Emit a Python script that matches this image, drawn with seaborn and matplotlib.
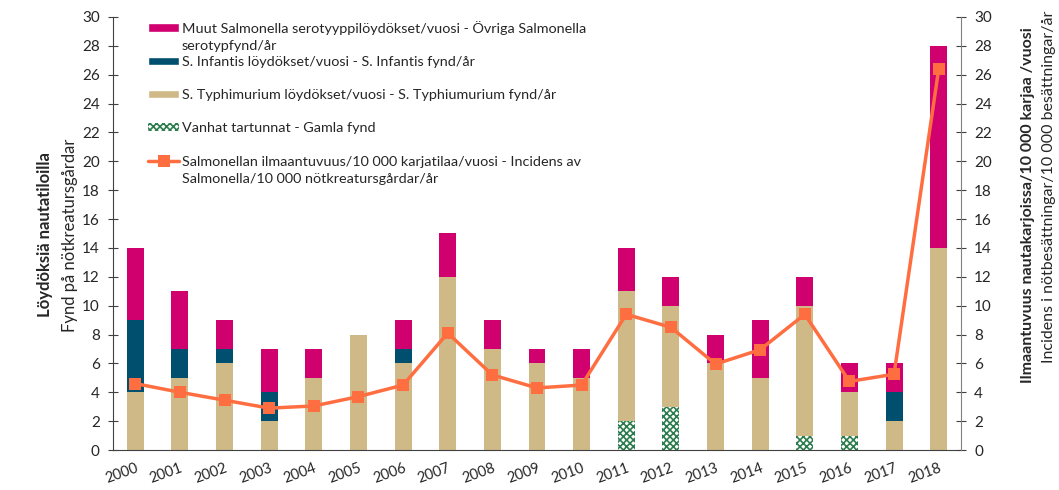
import matplotlib
matplotlib.use("Agg")
import matplotlib.pyplot as plt
from matplotlib.patches import Patch
from matplotlib.lines import Line2D
import seaborn as sns
import pandas as pd
import numpy as np

years = [str(y) for y in range(2000, 2019)]
typhimurium = [4, 5, 6, 2, 5, 8, 6, 12, 7, 6, 5, 11, 10, 6, 5, 10, 4, 2, 14]
infantis = [5, 2, 1, 2, 0, 0, 1, 0, 0, 0, 0, 0, 0, 0, 0, 0, 0, 2, 0]
other = [5, 4, 2, 3, 2, 0, 2, 3, 2, 1, 2, 3, 2, 2, 4, 2, 2, 2, 14]
old = [0, 0, 0, 0, 0, 0, 0, 0, 0, 0, 0, 2, 3, 0, 0, 1, 1, 0, 0]
incidence = [4.6, 4.0, 3.45, 2.9, 3.05, 3.7, 4.5, 8.1, 5.2, 4.3, 4.5,
             9.4, 8.5, 5.95, 6.95, 9.4, 4.75, 5.25, 26.4]

C_OTHER = "#d0006f"
C_INF = "#004f6e"
C_TYP = "#cfb987"
C_OLD = "#2e7d4f"
C_LINE = "#ff6e40"

df = pd.DataFrame({"year": years, "typ": typhimurium, "inf": infantis,
                   "oth": other, "old": old, "inc": incidence})
df["lvl2"] = df["typ"] + df["inf"]
df["lvl3"] = df["lvl2"] + df["oth"]

sns.set_style("white")
plt.rcParams["font.family"] = ["Lato", "DejaVu Sans"]
plt.rcParams["hatch.linewidth"] = 1.2

fig = plt.figure(figsize=(10.59, 4.9), dpi=100)
ax = fig.add_axes([113 / 1059, 40 / 490, 848 / 1059, 433 / 490])

bw = 0.38
sns.barplot(data=df, x="year", y="lvl3", color=C_OTHER, width=bw, saturation=1,
            linewidth=0, ax=ax, order=years)
sns.barplot(data=df, x="year", y="lvl2", color=C_INF, width=bw, saturation=1,
            linewidth=0, ax=ax, order=years)
sns.barplot(data=df, x="year", y="typ", color=C_TYP, width=bw, saturation=1,
            linewidth=0, ax=ax, order=years)
sns.barplot(data=df, x="year", y="old", color="white", width=bw, saturation=1,
            edgecolor=C_OLD, hatch="xxxxx", linewidth=0, ax=ax, order=years)

ax.set_xlim(-0.5, len(years) - 0.5)
ax.set_ylim(0, 30)
ax.set_yticks(range(0, 31, 2))
ax.set_xlabel("")
ax.set_ylabel("")
ax.set_xticks(np.arange(len(years)))
ax.set_xticklabels(years, rotation=20, ha="right", rotation_mode="anchor", fontsize=10.5)
ax.set_xticks(np.arange(len(years) + 1) - 0.5, minor=True)
ax.tick_params(axis="x", which="major", length=0, pad=8)
ax.tick_params(axis="x", which="minor", length=6, direction="out", color="#404040")
ax.tick_params(axis="y", length=7, direction="inout", color="#404040", labelsize=11, pad=6)
for s in ["top", "right"]:
    ax.spines[s].set_visible(False)
ax.spines["left"].set_color("#404040")
ax.spines["bottom"].set_color("#404040")

ax2 = ax.twinx()
sns.lineplot(x=np.arange(len(years)), y=df["inc"], ax=ax2, color=C_LINE, linewidth=2.5,
             marker="s", markersize=9, markeredgewidth=0)
ax2.set_ylim(0, 30)
ax2.set_yticks(range(0, 31, 2))
ax2.set_ylabel("")
ax2.tick_params(axis="y", length=7, direction="inout", color="#404040", labelsize=11, pad=6)
for s in ["top", "left", "bottom"]:
    ax2.spines[s].set_visible(False)
ax2.spines["right"].set_color("#808080")

handles = [
    Patch(facecolor=C_OTHER),
    Patch(facecolor=C_INF),
    Patch(facecolor=C_TYP),
    Patch(facecolor="white", edgecolor=C_OLD, hatch="xxxxx", linewidth=0),
    Line2D([0], [0], color=C_LINE, linewidth=2.5, marker="s", markersize=9, markeredgewidth=0),
]
labels = [
    "Muut Salmonella serotyyppilöydökset/vuosi - Övriga Salmonella",
    "S. Infantis löydökset/vuosi - S. Infantis fynd/år",
    "S. Typhimurium löydökset/vuosi - S. Typhiumurium fynd/år",
    "Vanhat tartunnat - Gamla fynd",
    "Salmonellan ilmaantuvuus/10 000 karjatilaa/vuosi - Incidens av",
]
# second lines of the wrapped legend labels
cont = {0: "serotypfynd/år", 4: "Salmonella/10 000 nötkreatursgårdar/år"}

leg = ax2.legend(handles, labels, loc="upper left", bbox_to_anchor=(0.035, 1.005),
                 frameon=False, fontsize=10.4, handlelength=2.1, handleheight=0.5,
                 handletextpad=0.2, labelspacing=1.47, borderaxespad=0)

fig.canvas.draw()
inv = fig.transFigure.inverted()
for i, txt in cont.items():
    bb = leg.get_texts()[i].get_window_extent()
    x0, y0 = inv.transform((bb.x0, bb.y0 - 17))
    fig.text(x0, y0, txt, fontsize=10.4, ha="left", va="bottom")

fig.text(45 / 1059, 1 - 235 / 490, "Löydöksiä nautatiloilla", rotation=90,
         ha="center", va="center", fontsize=12, fontweight="bold")
fig.text(70 / 1059, 1 - 235 / 490, "Fynd på nötkreatursgårdar", rotation=90,
         ha="center", va="center", fontsize=12)
fig.text(1028 / 1059, 1 - 205 / 490, "Ilmaantuvuus nautakarjoissa/10 000 karjaa /vuosi",
         rotation=90, ha="center", va="center", fontsize=11.5, fontweight="bold")
fig.text(1049 / 1059, 1 - 187 / 490, "Incidens i nötbesättningar/10 000 besättningar/år",
         rotation=90, ha="center", va="center", fontsize=11.5)

fig.savefig("out.png", dpi=100)
